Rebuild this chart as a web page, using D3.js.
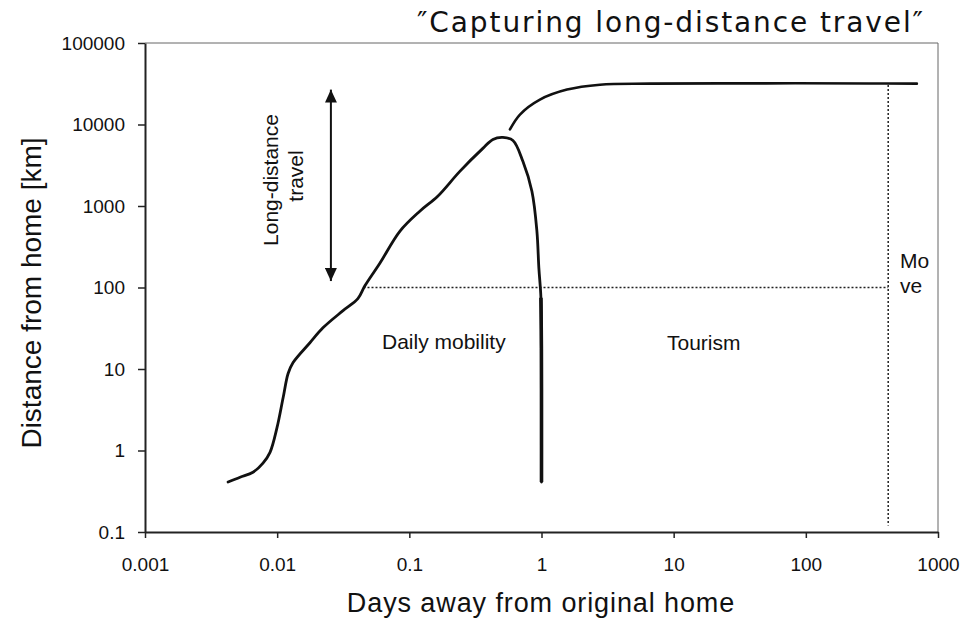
<!DOCTYPE html>
<html>
<head>
<meta charset="utf-8">
<script src="https://cdn.jsdelivr.net/npm/d3@7"></script>
<style>
  body { margin: 0; background: #fff; }
</style>
</head>
<body>
<div id="my_plot"></div>
<script>
var width = 974, height = 620;

// tick values and labels
var xTicks = [0.001, 0.01, 0.1, 1, 10, 100, 1000];
var xTickLabels = ["0.001", "0.01", "0.1", "1", "10", "100", "1000"];
var yTicks = [0.1, 1, 10, 100, 1000, 10000, 100000];
var yTickLabels = ["0.1", "1", "10", "100", "1000", "10000", "100000"];

// daily mobility curve (days, km)
var dailyDays = [0.00425, 0.00524, 0.00656, 0.00781, 0.00883, 0.00998, 0.0111, 0.0121, 0.0132,
  0.0177, 0.0222, 0.0315, 0.0408, 0.0461, 0.060, 0.085, 0.120, 0.164, 0.241, 0.360, 0.429,
  0.510, 0.608, 0.723, 0.846, 0.923, 0.955, 0.990, 0.998, 1.0, 1.0];
var dailyKm = [0.41, 0.47, 0.54, 0.70, 0.95, 1.92, 4.47, 8.8, 12.0,
  21, 32, 52, 73, 105, 200, 492, 863, 1318, 2661, 5093, 6562,
  6938, 6371, 3531, 1518, 492, 174, 75, 18, 2.3, 0.41];

// tourism curve (days, km)
var tourDays = [0.577, 0.687, 0.973, 1.56, 2.77, 6.6, 50, 300, 692];
var tourKm = [8690, 13240, 20200, 26800, 30800, 31700, 32000, 31900, 31700];

// thresholds
var longDistanceKm = 100;
var moveDays = 420;

var svg = d3.select("#my_plot")
  .append("svg")
    .attr("width", width)
    .attr("height", height);

var x = d3.scaleLog()
  .domain([0.001, 1000])
  .range([145, 938]);
var y = d3.scaleLog()
  .domain([0.1, 100000])
  .range([532, 43]);

// frame (top and right)
svg.append("line")
  .attr("x1", x(0.001)).attr("x2", x(1000))
  .attr("y1", y(100000)).attr("y2", y(100000))
  .attr("stroke", "#666").attr("stroke-width", 1);
svg.append("line")
  .attr("x1", x(1000)).attr("x2", x(1000))
  .attr("y1", y(100000)).attr("y2", y(0.1))
  .attr("stroke", "#666").attr("stroke-width", 1);

//X-axis
var xAxis = svg.append("g")
  .attr("transform", "translate(0," + y(0.1) + ")")
  .call(d3.axisBottom(x)
    .tickValues(xTicks)
    .tickFormat(function(d, i) { return xTickLabels[i]; })
    .tickSize(6)
    .tickSizeOuter(0)
    .tickPadding(20))
  .attr("font-family", "'Liberation Sans', Arial, sans-serif")
  .attr("font-size", 19);
xAxis.select(".domain").attr("stroke", "#222").attr("stroke-width", 2);
xAxis.selectAll(".tick line").attr("stroke", "#222").attr("stroke-width", 1.5);
xAxis.selectAll(".tick text").attr("fill", "#111");

//Y-axis
var yAxis = svg.append("g")
  .attr("transform", "translate(" + x(0.001) + ",0)")
  .call(d3.axisLeft(y)
    .tickValues(yTicks)
    .tickFormat(function(d, i) { return yTickLabels[i]; })
    .tickSize(7)
    .tickSizeOuter(0)
    .tickPadding(13))
  .attr("font-family", "'Liberation Sans', Arial, sans-serif")
  .attr("font-size", 19);
yAxis.select(".domain").attr("stroke", "#222").attr("stroke-width", 2);
yAxis.selectAll(".tick line").attr("stroke", "#222").attr("stroke-width", 1.5);
yAxis.selectAll(".tick text").attr("fill", "#111");

// axis titles
svg.append("text")
  .attr("x", 541)
  .attr("y", 612)
  .attr("text-anchor", "middle")
  .attr("font-family", "'Liberation Sans', Arial, sans-serif")
  .attr("font-size", 27)
  .attr("letter-spacing", 0.9)
  .attr("fill", "#111")
  .text("Days away from original home");
svg.append("text")
  .attr("transform", "translate(41,293) rotate(-90)")
  .attr("text-anchor", "middle")
  .attr("font-family", "'Liberation Sans', Arial, sans-serif")
  .attr("font-size", 28)
  .attr("fill", "#111")
  .text("Distance from home [km]");

// title
svg.append("text")
  .attr("x", 417)
  .attr("y", 32)
  .attr("font-family", "'DejaVu Sans', Verdana, sans-serif")
  .attr("font-size", 28)
  .attr("letter-spacing", 1.9)
  .attr("fill", "#111")
  .text("\u2033Capturing long-distance travel\u2033");

// dotted thresholds
svg.append("line")
  .attr("x1", x(0.045)).attr("x2", x(moveDays))
  .attr("y1", y(longDistanceKm)).attr("y2", y(longDistanceKm))
  .attr("stroke", "#222").attr("stroke-width", 1.5)
  .attr("stroke-dasharray", "2,2");
svg.append("line")
  .attr("x1", x(moveDays)).attr("x2", x(moveDays))
  .attr("y1", y(30500)).attr("y2", y(0.12))
  .attr("stroke", "#222").attr("stroke-width", 1.5)
  .attr("stroke-dasharray", "2,2");

// curves
var line = d3.line()
  .x(function(d) { return x(d[0]); })
  .y(function(d) { return y(d[1]); })
  .curve(d3.curveCatmullRom.alpha(0.5));

svg.append("path")
  .datum(d3.zip(dailyDays, dailyKm))
  .attr("d", line)
  .attr("fill", "none")
  .attr("stroke", "#111")
  .attr("stroke-width", 2.8)
  .attr("stroke-linecap", "round")
  .attr("stroke-linejoin", "round");

// heavier stroke on the return-home drop
svg.append("path")
  .datum(d3.zip(dailyDays, dailyKm).slice(-4))
  .attr("d", line)
  .attr("fill", "none")
  .attr("stroke", "#111")
  .attr("stroke-width", 3.6);

svg.append("path")
  .datum(d3.zip(tourDays, tourKm))
  .attr("d", line)
  .attr("fill", "none")
  .attr("stroke", "#111")
  .attr("stroke-width", 2.6)
  .attr("stroke-linecap", "round");

// long-distance arrow
svg.append("defs").append("marker")
  .attr("id", "head")
  .attr("viewBox", "0 0 13 12")
  .attr("refX", 13)
  .attr("refY", 6)
  .attr("markerWidth", 13)
  .attr("markerHeight", 12)
  .attr("markerUnits", "userSpaceOnUse")
  .attr("orient", "auto-start-reverse")
  .append("path")
    .attr("d", "M0,0 L13,6 L0,12 z")
    .attr("fill", "#111");

svg.append("line")
  .attr("x1", x(0.0255)).attr("x2", x(0.0255))
  .attr("y1", y(26800)).attr("y2", y(120))
  .attr("stroke", "#111").attr("stroke-width", 2)
  .attr("marker-start", "url(#head)")
  .attr("marker-end", "url(#head)");

// annotations
var note = function(tx, ty, txt, rot, anchor) {
  svg.append("text")
    .attr("transform", "translate(" + tx + "," + ty + ")" + (rot ? " rotate(" + rot + ")" : ""))
    .attr("text-anchor", anchor || "start")
    .attr("font-family", "'Liberation Sans', Arial, sans-serif")
    .attr("font-size", 21)
    .attr("fill", "#111")
    .text(txt);
};
note(x(0.0255) - 53, 180, "Long-distance", -90, "middle");
note(x(0.0255) - 28, 176, "travel", -90, "middle");
note(382, 349, "Daily mobility");
note(667, 350, "Tourism");
note(900, 268, "Mo");
note(900, 293, "ve");
</script>
</body>
</html>
